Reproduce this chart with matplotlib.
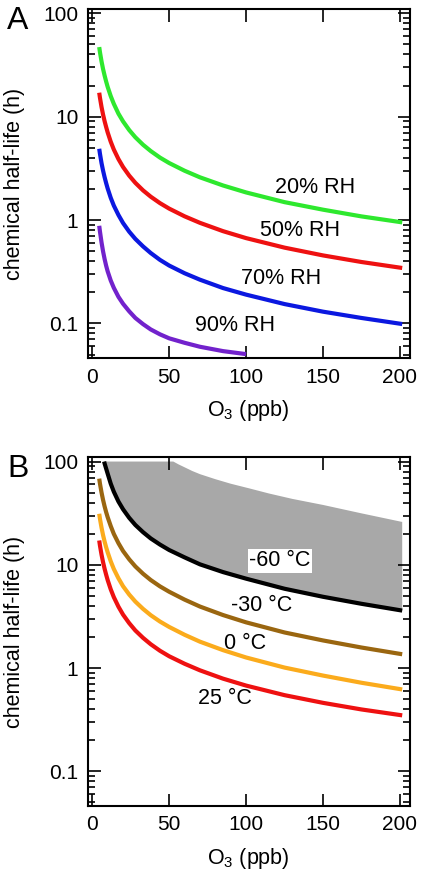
import numpy as np
import matplotlib
matplotlib.use("Agg")
import matplotlib.pyplot as plt
from matplotlib.ticker import LogLocator, NullFormatter, FuncFormatter

plt.rcParams['font.family'] = ['Liberation Sans', 'DejaVu Sans']
plt.rcParams['mathtext.fontset'] = 'custom'
plt.rcParams['mathtext.rm'] = 'Liberation Sans'
plt.rcParams['mathtext.it'] = 'Liberation Sans:italic'

# O3 (ppb) values the curves are read at
o3 = [4.5, 5, 6, 7, 8, 9, 10, 12, 14, 17, 20, 24, 28, 33, 38, 44, 50, 60, 70, 85,
      100, 125, 150, 175, 201.5]
o3_90 = o3[:21]

# panel A: half-life (h) at different relative humidity
rh20 = [47.1, 41.9, 34.3, 28.9, 25.0, 21.9, 19.4, 15.8, 13.3, 10.7, 9.0, 7.42, 6.32,
        5.35, 4.65, 4.02, 3.56, 3.0, 2.59, 2.16, 1.85, 1.49, 1.26, 1.085, 0.95]
rh50 = [17.05, 15.18, 12.42, 10.48, 9.05, 7.95, 7.04, 5.72, 4.81, 3.89, 3.26, 2.69, 2.29,
        1.937, 1.683, 1.458, 1.29, 1.087, 0.94, 0.781, 0.669, 0.541, 0.455, 0.393, 0.344]
rh70 = [4.89, 4.36, 3.56, 3.01, 2.6, 2.28, 2.02, 1.64, 1.38, 1.12, 0.936, 0.772, 0.657,
        0.556, 0.48, 0.412, 0.363, 0.306, 0.265, 0.22, 0.19, 0.154, 0.13, 0.113, 0.0987]
rh90 = [0.88, 0.772, 0.609, 0.498, 0.42, 0.362, 0.319, 0.26, 0.221, 0.181, 0.155, 0.131,
        0.113, 0.0985, 0.0875, 0.0785, 0.0718, 0.065, 0.0595, 0.054, 0.0505]
labels_a = ['20% RH', '50% RH', '70% RH', '90% RH']
label_pos_a = [(145, 2.06), (135, 0.80), (123, 0.271), (93, 0.096)]

# panel B: half-life (h) at different temperatures
t_m30 = [68.3, 60.9, 50.2, 42.5, 36.8, 32.4, 28.9, 23.7, 19.9, 16.2, 13.6, 11.3, 9.64,
         8.19, 7.12, 6.18, 5.48, 4.6, 3.94, 3.26, 2.77, 2.21, 1.85, 1.58, 1.36]
t_0 = [31.2, 27.8, 22.9, 19.4, 16.8, 14.8, 13.2, 10.8, 9.1, 7.4, 6.2, 5.15, 4.4, 3.74,
       3.25, 2.82, 2.5, 2.1, 1.8, 1.49, 1.265, 1.01, 0.845, 0.72, 0.62]
t_25 = [17.2, 15.3, 12.55, 10.6, 9.15, 8.03, 7.11, 5.78, 4.86, 3.93, 3.29, 2.72, 2.31,
        1.96, 1.70, 1.47, 1.30, 1.10, 0.95, 0.789, 0.676, 0.546, 0.46, 0.397, 0.348]
o3_60 = [7.7, 8, 9, 10, 12, 14, 17, 20, 24, 28, 33, 38, 44, 50, 60, 70, 85, 100, 125,
         150, 175, 201.5]
t_m60 = [100, 95.8, 85.5, 76.3, 61, 51, 41, 34.5, 28.5, 24.3, 20.7, 18.0, 15.7, 13.9,
         11.8, 10.1, 8.5, 7.34, 5.86, 4.9, 4.19, 3.6]
# upper edge of the shaded range
o3_band = [7.7, 52.7, 56, 60, 65, 70, 80, 90, 102, 115, 130, 150, 175, 201.5]
band_top = [100, 100, 94, 88, 81, 75.5, 67.5, 61, 55, 49, 43.5, 38, 31.5, 26]
labels_b = ['-60 °C', '-30 °C', '0 °C', '25 °C']
label_pos_b = [(122, 10.9), (110, 4.06), (99.4, 1.74), (86, 0.508)]

fig = plt.figure(figsize=(4.23, 8.73), dpi=100)
axA = fig.add_axes([0.208, 0.590, 0.761, 0.3997])
axB = fig.add_axes([0.208, 0.0771, 0.761, 0.3991])

lw = 3.0
axA.plot(o3, rh20, color='#2ee82e', lw=lw, solid_capstyle='butt')
axA.plot(o3, rh50, color='#ee1111', lw=lw, solid_capstyle='butt')
axA.plot(o3, rh70, color='#0b18e0', lw=lw, solid_capstyle='butt')
axA.plot(o3_90, rh90, color='#7222cc', lw=lw, solid_capstyle='butt')
for s, (x, y) in zip(labels_a, label_pos_a):
    axA.text(x, y, s, ha='center', va='center', fontsize=15.5)

axB.fill(np.concatenate([o3_band, o3_60[::-1]]),
         np.concatenate([band_top, t_m60[::-1]]),
         facecolor='#a8a8a8', edgecolor='none', zorder=1)
axB.plot(o3_60, t_m60, color='black', lw=lw, zorder=3, solid_capstyle='butt')
axB.plot(o3, t_m30, color='#9a6610', lw=lw, zorder=3, solid_capstyle='butt')
axB.plot(o3, t_0, color='#fbab1c', lw=lw, zorder=3, solid_capstyle='butt')
axB.plot(o3, t_25, color='#ee1111', lw=lw, zorder=3, solid_capstyle='butt')
for i, (s, (x, y)) in enumerate(zip(labels_b, label_pos_b)):
    bb = dict(facecolor='white', edgecolor='none', pad=1) if i == 0 else None
    axB.text(x, y, s, ha='center', va='center', fontsize=15.5, bbox=bb, zorder=4)

for ax in (axA, axB):
    ax.set_yscale('log')
    ax.set_xlim(-2.8, 206.5)
    ax.set_ylim(0.0464, 110)
    ax.set_xticks([0, 50, 100, 150, 200])
    ax.yaxis.set_major_locator(LogLocator(base=10, numticks=10))
    ax.yaxis.set_minor_locator(LogLocator(base=10, subs=range(2, 10), numticks=20))
    ax.yaxis.set_minor_formatter(NullFormatter())
    ax.yaxis.set_major_formatter(FuncFormatter(lambda v, p: '%g' % v))
    ax.tick_params(which='both', direction='in', top=True, right=True,
                   width=1.2, labelsize=15, pad=7)
    ax.tick_params(which='major', length=9)
    ax.tick_params(which='minor', length=5)
    for sp in ax.spines.values():
        sp.set_linewidth(1.5)
    ax.set_xlabel(r'O$_3$ (ppb)', fontsize=15.5)
    ax.set_ylabel('chemical half-life (h)', fontsize=15.5)
    ax.xaxis.set_label_coords(0.498, -0.115)
    ax.yaxis.set_label_coords(-0.195, 0.5)

fig.text(18 / 423, 1 - 21 / 873, 'A', fontsize=23, ha='center', va='center')
fig.text(18 / 423, 1 - 469 / 873, 'B', fontsize=23, ha='center', va='center')

fig.savefig('out.png', dpi=100)
